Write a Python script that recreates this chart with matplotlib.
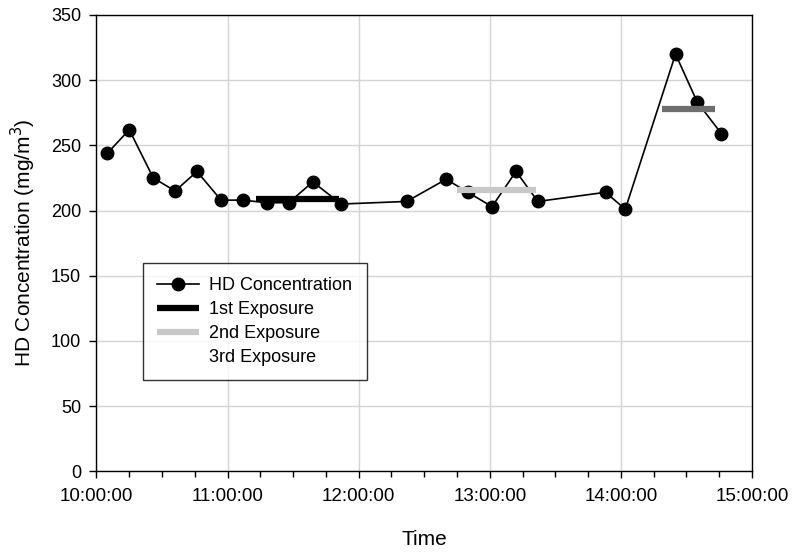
import matplotlib
matplotlib.use("Agg")
import matplotlib.pyplot as plt
import matplotlib.dates as mdates
from matplotlib.lines import Line2D
from datetime import datetime

plt.rcParams['font.family'] = ['Liberation Sans', 'DejaVu Sans']

times = ["10:05", "10:15", "10:26", "10:36", "10:46", "10:57", "11:07", "11:18",
         "11:28", "11:39", "11:52", "12:22", "12:40", "12:50", "13:01", "13:12",
         "13:22", "13:53", "14:02", "14:25", "14:35", "14:46"]
conc = [244, 262, 225, 215, 230, 208, 208, 206, 206, 222, 205, 207, 224, 214,
        203, 230, 207, 214, 201, 320, 283, 259]

exp_labels = ["1st Exposure", "2nd Exposure", "3rd Exposure"]
exp_start = ["11:13", "12:45", "14:19"]
exp_end = ["11:51", "13:21", "14:43"]
exp_level = [209, 215.5, 278]
exp_colors = ["#000000", "#c8c8c8", "#6e6e6e"]

x_ticks = ["10:00", "11:00", "12:00", "13:00", "14:00", "15:00"]
y_ticks = [0, 50, 100, 150, 200, 250, 300, 350]


def t(s):
    return datetime.strptime("2000-01-01 " + s, "%Y-%m-%d %H:%M")


fig = plt.figure(figsize=(8, 5.53), dpi=100)
ax = fig.add_axes([0.1206, 0.1477, 0.8194, 0.8252])

ax.plot([t(s) for s in times], conc, color="black", lw=1.2, marker="o",
        markersize=9, label="HD Concentration", zorder=3)
for lab, s, e, lv, c in zip(exp_labels, exp_start, exp_end, exp_level, exp_colors):
    ax.plot([t(s), t(e)], [lv, lv], color=c, lw=4.5, solid_capstyle="butt",
            zorder=4, label=lab)

# legend: 3rd exposure handle appears invisible in the reference
handles, labels = ax.get_legend_handles_labels()
handles[3] = Line2D([], [], color="white", lw=4.5)
leg = ax.legend(handles, labels, loc="upper left", bbox_to_anchor=(0.0705, 0.457),
                borderaxespad=0, fontsize=13, frameon=True, fancybox=False,
                edgecolor="black", handlelength=2.3, handletextpad=0.6,
                labelspacing=0.38, borderpad=0.8)
leg.get_frame().set_linewidth(1.0)

ax.set_xlim(t(x_ticks[0]), t(x_ticks[-1]))
ax.set_ylim(y_ticks[0], y_ticks[-1])
ax.set_xticks([t(s) for s in x_ticks])
ax.xaxis.set_major_formatter(mdates.DateFormatter("%H:%M:%S"))
ax.xaxis.set_minor_locator(mdates.MinuteLocator(byminute=[15, 30, 45]))
ax.set_yticks(y_ticks)

ax.grid(True, which="major", color="#d4d4d4", lw=1.0)
ax.set_axisbelow(True)
ax.tick_params(axis="x", which="major", direction="out", length=5,
               width=1, labelsize=13.5, pad=7)
ax.tick_params(axis="y", which="major", direction="out", length=5,
               width=1, labelsize=13, pad=6)
ax.tick_params(axis="x", which="minor", direction="out", length=4, width=1)
for sp in ax.spines.values():
    sp.set_linewidth(1.0)

ax.set_xlabel("Time", fontsize=15, labelpad=18)
ax.set_ylabel("HD Concentration (mg/m$^3$)", fontsize=15, labelpad=9)

fig.savefig("out.png", dpi=100)
